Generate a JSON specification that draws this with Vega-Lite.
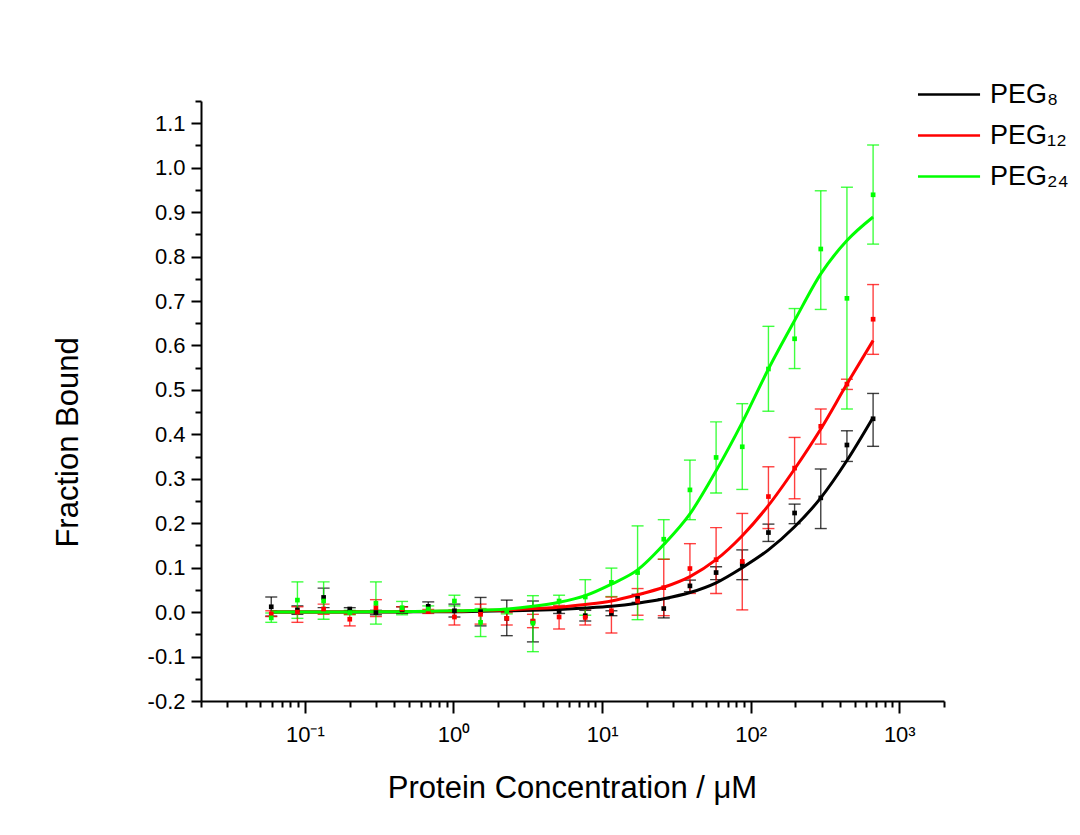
{
  "$schema": "https://vega.github.io/schema/vega-lite/v6.json",
  "width": 743,
  "height": 600,
  "autosize": "none",
  "padding": {"left": 201, "top": 101, "right": 136, "bottom": 134},
  "background": "white",
  "config": {
    "font": "Liberation Sans",
    "view": {"stroke": null},
    "axis": {"grid": false, "domainColor": "black", "tickColor": "black", "labelColor": "black", "titleColor": "black", "domainWidth": 2, "tickWidth": 2, "titleFontWeight": "normal", "labelOverlap": false, "labelFlush": false},
    "legend": {"labelFont": "Liberation Sans", "labelColor": "black"}
  },
  "datasets": {
    "pts": [
      {"s": "PEG₈", "c": 666.67, "v": 0.435, "lo": 0.373, "hi": 0.492},
      {"s": "PEG₈", "c": 444.44, "v": 0.376, "lo": 0.339, "hi": 0.408},
      {"s": "PEG₈", "c": 296.3, "v": 0.257, "lo": 0.188, "hi": 0.322},
      {"s": "PEG₈", "c": 197.53, "v": 0.223, "lo": 0.199, "hi": 0.243},
      {"s": "PEG₈", "c": 131.69, "v": 0.179, "lo": 0.159, "hi": 0.198},
      {"s": "PEG₈", "c": 87.79, "v": 0.107, "lo": 0.073, "hi": 0.14},
      {"s": "PEG₈", "c": 58.53, "v": 0.089, "lo": 0.073, "hi": 0.102},
      {"s": "PEG₈", "c": 39.02, "v": 0.059, "lo": 0.046, "hi": 0.072},
      {"s": "PEG₈", "c": 26.01, "v": 0.008, "lo": -0.013, "hi": 0.03},
      {"s": "PEG₈", "c": 17.34, "v": 0.031, "lo": 0.022, "hi": 0.04},
      {"s": "PEG₈", "c": 11.56, "v": -0.003, "lo": -0.008, "hi": 0.003},
      {"s": "PEG₈", "c": 7.707, "v": -0.008, "lo": -0.02, "hi": 0.004},
      {"s": "PEG₈", "c": 5.138, "v": 0.002, "lo": -0.003, "hi": 0.007},
      {"s": "PEG₈", "c": 3.425, "v": -0.021, "lo": -0.067, "hi": 0.025},
      {"s": "PEG₈", "c": 2.284, "v": -0.014, "lo": -0.053, "hi": 0.027},
      {"s": "PEG₈", "c": 1.522, "v": 0.001, "lo": -0.031, "hi": 0.033},
      {"s": "PEG₈", "c": 1.015, "v": 0.003, "lo": -0.011, "hi": 0.018},
      {"s": "PEG₈", "c": 0.6766, "v": 0.013, "lo": 0.003, "hi": 0.023},
      {"s": "PEG₈", "c": 0.4511, "v": 0.005, "lo": -0.003, "hi": 0.012},
      {"s": "PEG₈", "c": 0.3007, "v": -0.001, "lo": -0.006, "hi": 0.004},
      {"s": "PEG₈", "c": 0.2005, "v": 0.007, "lo": 0.003, "hi": 0.01},
      {"s": "PEG₈", "c": 0.1337, "v": 0.033, "lo": 0.01, "hi": 0.054},
      {"s": "PEG₈", "c": 0.0891, "v": 0.005, "lo": -0.005, "hi": 0.014},
      {"s": "PEG₈", "c": 0.0594, "v": 0.012, "lo": -0.009, "hi": 0.034},
      {"s": "PEG₁₂", "c": 666.67, "v": 0.659, "lo": 0.58, "hi": 0.737},
      {"s": "PEG₁₂", "c": 444.44, "v": 0.513, "lo": 0.501, "hi": 0.524},
      {"s": "PEG₁₂", "c": 296.3, "v": 0.418, "lo": 0.378, "hi": 0.457},
      {"s": "PEG₁₂", "c": 197.53, "v": 0.324, "lo": 0.255, "hi": 0.393},
      {"s": "PEG₁₂", "c": 131.69, "v": 0.26, "lo": 0.188, "hi": 0.327},
      {"s": "PEG₁₂", "c": 87.79, "v": 0.114, "lo": 0.005, "hi": 0.222},
      {"s": "PEG₁₂", "c": 58.53, "v": 0.118, "lo": 0.042, "hi": 0.19},
      {"s": "PEG₁₂", "c": 39.02, "v": 0.098, "lo": 0.042, "hi": 0.154},
      {"s": "PEG₁₂", "c": 26.01, "v": 0.055, "lo": -0.008, "hi": 0.119},
      {"s": "PEG₁₂", "c": 17.34, "v": 0.025, "lo": -0.007, "hi": 0.053},
      {"s": "PEG₁₂", "c": 11.56, "v": 0.003, "lo": -0.047, "hi": 0.034},
      {"s": "PEG₁₂", "c": 7.707, "v": -0.012, "lo": -0.029, "hi": 0.007},
      {"s": "PEG₁₂", "c": 5.138, "v": -0.011, "lo": -0.038, "hi": 0.015},
      {"s": "PEG₁₂", "c": 3.425, "v": -0.02, "lo": -0.035, "hi": -0.005},
      {"s": "PEG₁₂", "c": 2.284, "v": -0.014, "lo": -0.029, "hi": -0.001},
      {"s": "PEG₁₂", "c": 1.522, "v": -0.005, "lo": -0.027, "hi": 0.018},
      {"s": "PEG₁₂", "c": 1.015, "v": -0.011, "lo": -0.029, "hi": 0.005},
      {"s": "PEG₁₂", "c": 0.6766, "v": 0.001, "lo": -0.003, "hi": 0.006},
      {"s": "PEG₁₂", "c": 0.4511, "v": 0.007, "lo": 0.002, "hi": 0.012},
      {"s": "PEG₁₂", "c": 0.3007, "v": 0.01, "lo": -0.01, "hi": 0.028},
      {"s": "PEG₁₂", "c": 0.2005, "v": -0.016, "lo": -0.031, "hi": -0.005},
      {"s": "PEG₁₂", "c": 0.1337, "v": 0.007, "lo": -0.005, "hi": 0.018},
      {"s": "PEG₁₂", "c": 0.0891, "v": 0.0, "lo": -0.023, "hi": 0.012},
      {"s": "PEG₁₂", "c": 0.0594, "v": -0.004, "lo": -0.01, "hi": 0.003},
      {"s": "PEG₂₄", "c": 666.67, "v": 0.939, "lo": 0.828, "hi": 1.051},
      {"s": "PEG₂₄", "c": 444.44, "v": 0.706, "lo": 0.457, "hi": 0.956},
      {"s": "PEG₂₄", "c": 296.3, "v": 0.817, "lo": 0.681, "hi": 0.948},
      {"s": "PEG₂₄", "c": 197.53, "v": 0.615, "lo": 0.548, "hi": 0.683},
      {"s": "PEG₂₄", "c": 131.69, "v": 0.547, "lo": 0.452, "hi": 0.643},
      {"s": "PEG₂₄", "c": 87.79, "v": 0.372, "lo": 0.276, "hi": 0.469},
      {"s": "PEG₂₄", "c": 58.53, "v": 0.348, "lo": 0.268, "hi": 0.428},
      {"s": "PEG₂₄", "c": 39.02, "v": 0.275, "lo": 0.208, "hi": 0.342},
      {"s": "PEG₂₄", "c": 26.01, "v": 0.164, "lo": 0.119, "hi": 0.208},
      {"s": "PEG₂₄", "c": 17.34, "v": 0.089, "lo": -0.017, "hi": 0.194},
      {"s": "PEG₂₄", "c": 11.56, "v": 0.067, "lo": 0.035, "hi": 0.099},
      {"s": "PEG₂₄", "c": 7.707, "v": 0.034, "lo": -0.007, "hi": 0.073},
      {"s": "PEG₂₄", "c": 5.138, "v": 0.025, "lo": 0.01, "hi": 0.038},
      {"s": "PEG₂₄", "c": 3.425, "v": -0.025, "lo": -0.089, "hi": 0.037},
      {"s": "PEG₂₄", "c": 2.284, "v": 0.002, "lo": -0.004, "hi": 0.008},
      {"s": "PEG₂₄", "c": 1.522, "v": -0.023, "lo": -0.055, "hi": 0.008},
      {"s": "PEG₂₄", "c": 1.015, "v": 0.025, "lo": 0.014, "hi": 0.038},
      {"s": "PEG₂₄", "c": 0.6766, "v": 0.007, "lo": 0.0, "hi": 0.014},
      {"s": "PEG₂₄", "c": 0.4511, "v": 0.01, "lo": -0.006, "hi": 0.024},
      {"s": "PEG₂₄", "c": 0.3007, "v": 0.02, "lo": -0.027, "hi": 0.068},
      {"s": "PEG₂₄", "c": 0.2005, "v": -0.001, "lo": -0.006, "hi": 0.004},
      {"s": "PEG₂₄", "c": 0.1337, "v": 0.025, "lo": -0.016, "hi": 0.068},
      {"s": "PEG₂₄", "c": 0.0891, "v": 0.027, "lo": -0.014, "hi": 0.068},
      {"s": "PEG₂₄", "c": 0.0594, "v": -0.013, "lo": -0.023, "hi": -0.002}
    ],
    "fit": [
      {"s": "PEG₈", "c": 666.67, "f": 0.438}, {"s": "PEG₈", "c": 444.44, "f": 0.341}, {"s": "PEG₈", "c": 296.3, "f": 0.257}, {"s": "PEG₈", "c": 197.53, "f": 0.192},
      {"s": "PEG₈", "c": 131.69, "f": 0.14}, {"s": "PEG₈", "c": 87.79, "f": 0.1}, {"s": "PEG₈", "c": 58.53, "f": 0.066}, {"s": "PEG₈", "c": 39.02, "f": 0.044},
      {"s": "PEG₈", "c": 26.01, "f": 0.03}, {"s": "PEG₈", "c": 17.34, "f": 0.02}, {"s": "PEG₈", "c": 11.56, "f": 0.013}, {"s": "PEG₈", "c": 7.707, "f": 0.009},
      {"s": "PEG₈", "c": 5.138, "f": 0.006}, {"s": "PEG₈", "c": 3.425, "f": 0.004}, {"s": "PEG₈", "c": 2.284, "f": 0.003}, {"s": "PEG₈", "c": 1.522, "f": 0.002},
      {"s": "PEG₈", "c": 1.015, "f": 0.001}, {"s": "PEG₈", "c": 0.6766, "f": 0.001}, {"s": "PEG₈", "c": 0.4511, "f": 0.0005}, {"s": "PEG₈", "c": 0.3007, "f": 0.0004},
      {"s": "PEG₈", "c": 0.2005, "f": 0.0002}, {"s": "PEG₈", "c": 0.1337, "f": 0.0002}, {"s": "PEG₈", "c": 0.0891, "f": 0.0001}, {"s": "PEG₈", "c": 0.0594, "f": 0.0001},
      {"s": "PEG₁₂", "c": 666.67, "f": 0.611}, {"s": "PEG₁₂", "c": 444.44, "f": 0.513}, {"s": "PEG₁₂", "c": 296.3, "f": 0.412}, {"s": "PEG₁₂", "c": 197.53, "f": 0.322},
      {"s": "PEG₁₂", "c": 131.69, "f": 0.24}, {"s": "PEG₁₂", "c": 87.79, "f": 0.172}, {"s": "PEG₁₂", "c": 58.53, "f": 0.118}, {"s": "PEG₁₂", "c": 39.02, "f": 0.08},
      {"s": "PEG₁₂", "c": 26.01, "f": 0.056}, {"s": "PEG₁₂", "c": 17.34, "f": 0.039}, {"s": "PEG₁₂", "c": 11.56, "f": 0.025}, {"s": "PEG₁₂", "c": 7.707, "f": 0.017},
      {"s": "PEG₁₂", "c": 5.138, "f": 0.011}, {"s": "PEG₁₂", "c": 3.425, "f": 0.008}, {"s": "PEG₁₂", "c": 2.284, "f": 0.005}, {"s": "PEG₁₂", "c": 1.522, "f": 0.004},
      {"s": "PEG₁₂", "c": 1.015, "f": 0.002}, {"s": "PEG₁₂", "c": 0.6766, "f": 0.0016}, {"s": "PEG₁₂", "c": 0.4511, "f": 0.001}, {"s": "PEG₁₂", "c": 0.3007, "f": 0.0007},
      {"s": "PEG₁₂", "c": 0.2005, "f": 0.0005}, {"s": "PEG₁₂", "c": 0.1337, "f": 0.0003}, {"s": "PEG₁₂", "c": 0.0891, "f": 0.0002}, {"s": "PEG₁₂", "c": 0.0594, "f": 0.0001},
      {"s": "PEG₂₄", "c": 666.67, "f": 0.889}, {"s": "PEG₂₄", "c": 444.44, "f": 0.836}, {"s": "PEG₂₄", "c": 296.3, "f": 0.761}, {"s": "PEG₂₄", "c": 197.53, "f": 0.656},
      {"s": "PEG₂₄", "c": 131.69, "f": 0.547}, {"s": "PEG₂₄", "c": 87.79, "f": 0.427}, {"s": "PEG₂₄", "c": 58.53, "f": 0.318}, {"s": "PEG₂₄", "c": 39.02, "f": 0.221},
      {"s": "PEG₂₄", "c": 26.01, "f": 0.152}, {"s": "PEG₂₄", "c": 17.34, "f": 0.095}, {"s": "PEG₂₄", "c": 11.56, "f": 0.063}, {"s": "PEG₂₄", "c": 7.707, "f": 0.037},
      {"s": "PEG₂₄", "c": 5.138, "f": 0.022}, {"s": "PEG₂₄", "c": 3.425, "f": 0.013}, {"s": "PEG₂₄", "c": 2.284, "f": 0.007}, {"s": "PEG₂₄", "c": 1.522, "f": 0.004},
      {"s": "PEG₂₄", "c": 1.015, "f": 0.003}, {"s": "PEG₂₄", "c": 0.6766, "f": 0.002}, {"s": "PEG₂₄", "c": 0.4511, "f": 0.001}, {"s": "PEG₂₄", "c": 0.3007, "f": 0.0007},
      {"s": "PEG₂₄", "c": 0.2005, "f": 0.0004}, {"s": "PEG₂₄", "c": 0.1337, "f": 0.0003}, {"s": "PEG₂₄", "c": 0.0891, "f": 0.0002}, {"s": "PEG₂₄", "c": 0.0594, "f": 0.0001}
    ]
  },
  "encoding": {
    "x": {
      "field": "c",
      "type": "quantitative",
      "scale": {"type": "log", "domain": [0.02, 2000], "nice": false},
      "axis": {
        "values": [0.02, 0.03, 0.04, 0.05, 0.06, 0.07, 0.08, 0.09, 0.1, 0.2, 0.3, 0.4, 0.5, 0.6, 0.7, 0.8, 0.9, 1, 2, 3, 4, 5, 6, 7, 8, 9, 10, 20, 30, 40, 50, 60, 70, 80, 90, 100, 200, 300, 400, 500, 600, 700, 800, 900, 1000, 2000],
        "labelExpr": "datum.value == 0.1 ? '10⁻¹' : datum.value == 1 ? '10⁰' : datum.value == 10 ? '10¹' : datum.value == 100 ? '10²' : datum.value == 1000 ? '10³' : ''",
        "tickSize": {"condition": {"test": "indexof([0.1, 1, 10, 100, 1000], datum.value) >= 0", "value": 12}, "value": 6},
        "labelFontSize": 22,
        "labelPadding": 11,
        "title": "Protein Concentration / μM",
        "titleFontSize": 31,
        "titleX": 371,
        "titleY": 87,
        "titleBaseline": "middle",
        "titleAlign": "center"
      }
    },
    "y": {
      "type": "quantitative",
      "scale": {"domain": [-0.2, 1.15], "nice": false, "zero": false},
      "axis": {
        "values": [-0.2, -0.15, -0.1, -0.05, 0, 0.05, 0.1, 0.15, 0.2, 0.25, 0.3, 0.35, 0.4, 0.45, 0.5, 0.55, 0.6, 0.65, 0.7, 0.75, 0.8, 0.85, 0.9, 0.95, 1, 1.05, 1.1, 1.15],
        "labelExpr": "abs(datum.value*10 - round(datum.value*10)) < 0.01 ? replace(format(datum.value, '.1f'), '−', '-') : ''",
        "tickSize": {"condition": {"test": "abs(datum.value*10 - round(datum.value*10)) < 0.01", "value": 10}, "value": 6},
        "labelFontSize": 22,
        "labelPadding": 6,
        "title": "Fraction Bound",
        "titleFontSize": 31,
        "titleX": -133,
        "titleY": 341,
        "titleAngle": -90,
        "titleBaseline": "middle",
        "titleAlign": "center"
      }
    },
    "color": {
      "field": "s",
      "type": "nominal",
      "scale": {"domain": ["PEG₈", "PEG₁₂", "PEG₂₄"], "range": ["#000000", "#ff0000", "#00ff00"]},
      "legend": {
        "orient": "none",
        "legendX": 719,
        "legendY": -20,
        "title": null,
        "symbolType": "M-3,0H9",
        "symbolSize": 107,
        "symbolStrokeWidth": 2.5,
        "symbolOpacity": 1,
        "labelFontSize": 27,
        "labelOffset": 43,
        "rowPadding": 13
      }
    }
  },
  "layer": [
    {
      "data": {"name": "pts"},
      "mark": {"type": "errorbar", "size": 12, "thickness": 1.4, "ticks": {"opacity": 0.75}, "rule": {"opacity": 0.75}},
      "encoding": {
        "y": {"field": "lo"},
        "y2": {"field": "hi"}
      }
    },
    {
      "data": {"name": "fit"},
      "mark": {"type": "line", "strokeWidth": 3, "interpolate": "monotone"},
      "encoding": {
        "y": {"field": "f"}
      }
    },
    {
      "data": {"name": "pts"},
      "mark": {"type": "square", "size": 22, "opacity": 1},
      "encoding": {
        "y": {"field": "v"}
      }
    }
  ]
}
